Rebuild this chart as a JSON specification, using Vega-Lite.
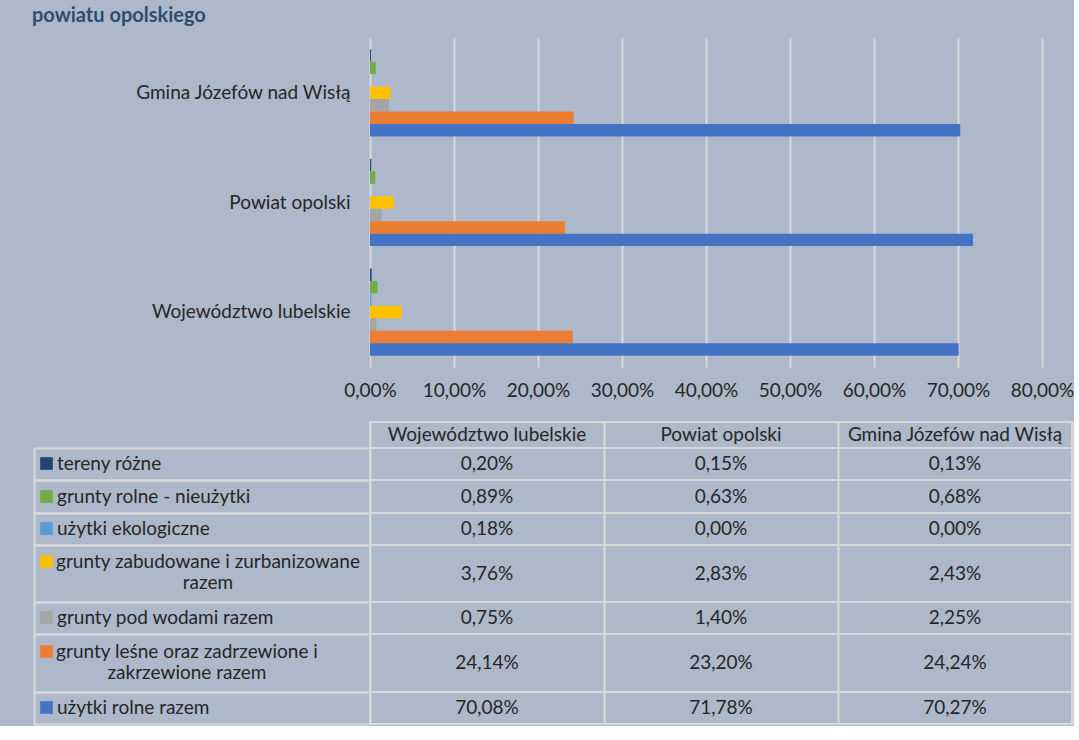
{
  "$schema": "https://vega.github.io/schema/vega-lite/v6.json",
  "background": "#adb9ca",
  "padding": {"left": 32, "top": 6, "right": 0, "bottom": 0},
  "title": {"text": "powiatu opolskiego", "anchor": "start", "fontSize": 20, "fontWeight": "bold", "color": "#2e4d6d", "offset": 12},
  "config": {
    "font": "Lato",
    "locale": {"number": {"decimal": ",", "thousands": " ", "grouping": [3], "currency": ["", " zł"]}},
    "axis": {"labelFont": "Lato", "labelColor": "#262626", "labelFontSize": 19},
    "legend": {"symbolType": "square", "symbolSize": 160, "symbolStrokeWidth": 0, "labelFont": "Lato", "labelFontSize": 19, "labelColor": "#262626", "labelOffset": 1, "labelLimit": 400, "padding": 0, "orient": "none"},
    "text": {"font": "Lato", "fontSize": 19, "color": "#262626"}
  },
  "datasets": {
    "d": [
      {"region": "Województwo lubelskie", "series": "tereny różne", "value": 0.0020},
      {"region": "Powiat opolski", "series": "tereny różne", "value": 0.0015},
      {"region": "Gmina Józefów nad Wisłą", "series": "tereny różne", "value": 0.0013},
      {"region": "Województwo lubelskie", "series": "grunty rolne - nieużytki", "value": 0.0089},
      {"region": "Powiat opolski", "series": "grunty rolne - nieużytki", "value": 0.0063},
      {"region": "Gmina Józefów nad Wisłą", "series": "grunty rolne - nieużytki", "value": 0.0068},
      {"region": "Województwo lubelskie", "series": "użytki ekologiczne", "value": 0.0018},
      {"region": "Powiat opolski", "series": "użytki ekologiczne", "value": 0.0},
      {"region": "Gmina Józefów nad Wisłą", "series": "użytki ekologiczne", "value": 0.0},
      {"region": "Województwo lubelskie", "series": "grunty zabudowane i zurbanizowane razem", "value": 0.0376},
      {"region": "Powiat opolski", "series": "grunty zabudowane i zurbanizowane razem", "value": 0.0283},
      {"region": "Gmina Józefów nad Wisłą", "series": "grunty zabudowane i zurbanizowane razem", "value": 0.0243},
      {"region": "Województwo lubelskie", "series": "grunty pod wodami razem", "value": 0.0075},
      {"region": "Powiat opolski", "series": "grunty pod wodami razem", "value": 0.0140},
      {"region": "Gmina Józefów nad Wisłą", "series": "grunty pod wodami razem", "value": 0.0225},
      {"region": "Województwo lubelskie", "series": "grunty leśne oraz zadrzewione i zakrzewione razem", "value": 0.2414},
      {"region": "Powiat opolski", "series": "grunty leśne oraz zadrzewione i zakrzewione razem", "value": 0.2320},
      {"region": "Gmina Józefów nad Wisłą", "series": "grunty leśne oraz zadrzewione i zakrzewione razem", "value": 0.2424},
      {"region": "Województwo lubelskie", "series": "użytki rolne razem", "value": 0.7008},
      {"region": "Powiat opolski", "series": "użytki rolne razem", "value": 0.7178},
      {"region": "Gmina Józefów nad Wisłą", "series": "użytki rolne razem", "value": 0.7027}
    ]
  },
  "spacing": 21,
  "resolve": {"scale": {"color": "independent"}, "legend": {"color": "independent"}},
  "vconcat": [
    {
      "width": 672,
      "height": 329,
      "data": {"name": "d"},
      "view": {"stroke": null},
      "mark": {"type": "bar"},
      "encoding": {
        "y": {"field": "region", "type": "nominal", "sort": ["Gmina Józefów nad Wisłą", "Powiat opolski", "Województwo lubelskie"], "scale": {"paddingInner": 0.205, "paddingOuter": 0.1025}, "axis": {"title": null, "domain": false, "ticks": false, "grid": false, "labelPadding": 20, "labelLimit": 400}},
        "yOffset": {"field": "series", "type": "nominal", "sort": ["tereny różne", "grunty rolne - nieużytki", "użytki ekologiczne", "grunty zabudowane i zurbanizowane razem", "grunty pod wodami razem", "grunty leśne oraz zadrzewione i zakrzewione razem", "użytki rolne razem"], "scale": {"paddingInner": 0, "paddingOuter": 0}},
        "x": {"field": "value", "type": "quantitative", "scale": {"domain": [0, 0.8], "nice": false}, "axis": {"title": null, "format": ".2%", "values": [0, 0.1, 0.2, 0.3, 0.4, 0.5, 0.6, 0.7, 0.8], "grid": true, "gridColor": "#d9d9d9", "gridWidth": 2, "domain": false, "ticks": false, "labelPadding": 14, "labelFlush": false}},
        "color": {"field": "series", "type": "nominal", "scale": {"domain": ["tereny różne", "grunty rolne - nieużytki", "użytki ekologiczne", "grunty zabudowane i zurbanizowane razem", "grunty pod wodami razem", "grunty leśne oraz zadrzewione i zakrzewione razem", "użytki rolne razem"], "range": ["#264478", "#70ad47", "#5b9bd5", "#ffc000", "#a5a5a5", "#ed7d31", "#4472c4"]}, "legend": null}
      }
    },
    {
      "bounds": "flush",
      "spacing": 0,
      "resolve": {"scale": {"color": "independent"}, "legend": {"color": "independent"}},
      "vconcat": [
        {
          "width": 702, "height": 26,
          "data": {"name": "d"},
          "transform": [{"filter": {"field": "series", "equal": "tereny różne"}}],
          "view": {"stroke": "#d9d9d9", "strokeWidth": 2},
          "mark": {"type": "text"},
          "encoding": {
            "x": {"field": "region", "type": "nominal", "sort": ["Województwo lubelskie", "Powiat opolski", "Gmina Józefów nad Wisłą"], "scale": {"paddingInner": 0, "paddingOuter": 0}, "axis": {"title": null, "labels": false, "ticks": false, "domain": false, "grid": true, "tickBand": "extent", "gridColor": "#d9d9d9", "gridWidth": 2}},
            "text": {"field": "region"}
          }
        },
        {
          "width": 702, "height": 32,
          "data": {"name": "d"},
          "transform": [{"filter": {"field": "series", "equal": "tereny różne"}}],
          "view": {"stroke": "#d9d9d9", "strokeWidth": 2},
          "encoding": {"y": {"field": "series", "type": "nominal", "scale": {"paddingInner": 0, "paddingOuter": 0}, "axis": {"title": null, "labels": false, "grid": false, "domain": true, "domainColor": "#d9d9d9", "domainWidth": 2, "offset": 336, "ticks": true, "tickBand": "extent", "tickSize": -336, "tickColor": "#d9d9d9", "tickWidth": 2}}},
          "layer": [
            {"mark": {"type": "text"}, "encoding": {"x": {"field": "region", "type": "nominal", "sort": ["Województwo lubelskie", "Powiat opolski", "Gmina Józefów nad Wisłą"], "scale": {"paddingInner": 0, "paddingOuter": 0}, "axis": {"title": null, "labels": false, "ticks": false, "domain": false, "grid": true, "tickBand": "extent", "gridColor": "#d9d9d9", "gridWidth": 2}}, "text": {"field": "value", "format": ".2%"}}},
            {"mark": {"type": "text", "text": ""}, "encoding": {"color": {"field": "series", "type": "nominal", "scale": {"range": ["#264478"]}, "legend": {"title": null, "symbolSize": 160, "legendX": -333, "legendY": 6}}}}
          ]
        },
        {
          "width": 702, "height": 33,
          "data": {"name": "d"},
          "transform": [{"filter": {"field": "series", "equal": "grunty rolne - nieużytki"}}],
          "view": {"stroke": "#d9d9d9", "strokeWidth": 2},
          "encoding": {"y": {"field": "series", "type": "nominal", "scale": {"paddingInner": 0, "paddingOuter": 0}, "axis": {"title": null, "labels": false, "grid": false, "domain": true, "domainColor": "#d9d9d9", "domainWidth": 2, "offset": 336, "ticks": true, "tickBand": "extent", "tickSize": -336, "tickColor": "#d9d9d9", "tickWidth": 2}}},
          "layer": [
            {"mark": {"type": "text"}, "encoding": {"x": {"field": "region", "type": "nominal", "sort": ["Województwo lubelskie", "Powiat opolski", "Gmina Józefów nad Wisłą"], "scale": {"paddingInner": 0, "paddingOuter": 0}, "axis": {"title": null, "labels": false, "ticks": false, "domain": false, "grid": true, "tickBand": "extent", "gridColor": "#d9d9d9", "gridWidth": 2}}, "text": {"field": "value", "format": ".2%"}}},
            {"mark": {"type": "text", "text": ""}, "encoding": {"color": {"field": "series", "type": "nominal", "scale": {"range": ["#70ad47"]}, "legend": {"title": null, "symbolSize": 160, "legendX": -333, "legendY": 7}}}}
          ]
        },
        {
          "width": 702, "height": 32,
          "data": {"name": "d"},
          "transform": [{"filter": {"field": "series", "equal": "użytki ekologiczne"}}],
          "view": {"stroke": "#d9d9d9", "strokeWidth": 2},
          "encoding": {"y": {"field": "series", "type": "nominal", "scale": {"paddingInner": 0, "paddingOuter": 0}, "axis": {"title": null, "labels": false, "grid": false, "domain": true, "domainColor": "#d9d9d9", "domainWidth": 2, "offset": 336, "ticks": true, "tickBand": "extent", "tickSize": -336, "tickColor": "#d9d9d9", "tickWidth": 2}}},
          "layer": [
            {"mark": {"type": "text"}, "encoding": {"x": {"field": "region", "type": "nominal", "sort": ["Województwo lubelskie", "Powiat opolski", "Gmina Józefów nad Wisłą"], "scale": {"paddingInner": 0, "paddingOuter": 0}, "axis": {"title": null, "labels": false, "ticks": false, "domain": false, "grid": true, "tickBand": "extent", "gridColor": "#d9d9d9", "gridWidth": 2}}, "text": {"field": "value", "format": ".2%"}}},
            {"mark": {"type": "text", "text": ""}, "encoding": {"color": {"field": "series", "type": "nominal", "scale": {"range": ["#5b9bd5"]}, "legend": {"title": null, "symbolSize": 160, "legendX": -333, "legendY": 6}}}}
          ]
        },
        {
          "width": 702, "height": 57,
          "data": {"name": "d"},
          "transform": [{"filter": {"field": "series", "equal": "grunty zabudowane i zurbanizowane razem"}}],
          "view": {"stroke": "#d9d9d9", "strokeWidth": 2},
          "encoding": {"y": {"field": "series", "type": "nominal", "scale": {"paddingInner": 0, "paddingOuter": 0}, "axis": {"title": null, "labels": false, "grid": false, "domain": true, "domainColor": "#d9d9d9", "domainWidth": 2, "offset": 336, "ticks": true, "tickBand": "extent", "tickSize": -336, "tickColor": "#d9d9d9", "tickWidth": 2}}},
          "layer": [
            {"mark": {"type": "text"}, "encoding": {"x": {"field": "region", "type": "nominal", "sort": ["Województwo lubelskie", "Powiat opolski", "Gmina Józefów nad Wisłą"], "scale": {"paddingInner": 0, "paddingOuter": 0}, "axis": {"title": null, "labels": false, "ticks": false, "domain": false, "grid": true, "tickBand": "extent", "gridColor": "#d9d9d9", "gridWidth": 2}}, "text": {"field": "value", "format": ".2%"}}},
            {"mark": {"type": "text", "text": ""}, "encoding": {"color": {"field": "series", "type": "nominal", "scale": {"range": ["#ffc000"]}, "legend": {"title": null, "symbolSize": 160, "legendX": -333, "legendY": 7, "labelAlign": "center", "labelOffset": 152, "labelExpr": "['grunty zabudowane i zurbanizowane', 'razem']"}}}}
          ]
        },
        {
          "width": 702, "height": 32,
          "data": {"name": "d"},
          "transform": [{"filter": {"field": "series", "equal": "grunty pod wodami razem"}}],
          "view": {"stroke": "#d9d9d9", "strokeWidth": 2},
          "encoding": {"y": {"field": "series", "type": "nominal", "scale": {"paddingInner": 0, "paddingOuter": 0}, "axis": {"title": null, "labels": false, "grid": false, "domain": true, "domainColor": "#d9d9d9", "domainWidth": 2, "offset": 336, "ticks": true, "tickBand": "extent", "tickSize": -336, "tickColor": "#d9d9d9", "tickWidth": 2}}},
          "layer": [
            {"mark": {"type": "text"}, "encoding": {"x": {"field": "region", "type": "nominal", "sort": ["Województwo lubelskie", "Powiat opolski", "Gmina Józefów nad Wisłą"], "scale": {"paddingInner": 0, "paddingOuter": 0}, "axis": {"title": null, "labels": false, "ticks": false, "domain": false, "grid": true, "tickBand": "extent", "gridColor": "#d9d9d9", "gridWidth": 2}}, "text": {"field": "value", "format": ".2%"}}},
            {"mark": {"type": "text", "text": ""}, "encoding": {"color": {"field": "series", "type": "nominal", "scale": {"range": ["#a5a5a5"]}, "legend": {"title": null, "symbolSize": 160, "legendX": -333, "legendY": 6}}}}
          ]
        },
        {
          "width": 702, "height": 58,
          "data": {"name": "d"},
          "transform": [{"filter": {"field": "series", "equal": "grunty leśne oraz zadrzewione i zakrzewione razem"}}],
          "view": {"stroke": "#d9d9d9", "strokeWidth": 2},
          "encoding": {"y": {"field": "series", "type": "nominal", "scale": {"paddingInner": 0, "paddingOuter": 0}, "axis": {"title": null, "labels": false, "grid": false, "domain": true, "domainColor": "#d9d9d9", "domainWidth": 2, "offset": 336, "ticks": true, "tickBand": "extent", "tickSize": -336, "tickColor": "#d9d9d9", "tickWidth": 2}}},
          "layer": [
            {"mark": {"type": "text"}, "encoding": {"x": {"field": "region", "type": "nominal", "sort": ["Województwo lubelskie", "Powiat opolski", "Gmina Józefów nad Wisłą"], "scale": {"paddingInner": 0, "paddingOuter": 0}, "axis": {"title": null, "labels": false, "ticks": false, "domain": false, "grid": true, "tickBand": "extent", "gridColor": "#d9d9d9", "gridWidth": 2}}, "text": {"field": "value", "format": ".2%"}}},
            {"mark": {"type": "text", "text": ""}, "encoding": {"color": {"field": "series", "type": "nominal", "scale": {"range": ["#ed7d31"]}, "legend": {"title": null, "symbolSize": 160, "legendX": -333, "legendY": 8, "labelAlign": "center", "labelOffset": 131, "labelExpr": "['grunty leśne oraz zadrzewione i', 'zakrzewione razem']"}}}}
          ]
        },
        {
          "width": 702, "height": 32,
          "data": {"name": "d"},
          "transform": [{"filter": {"field": "series", "equal": "użytki rolne razem"}}],
          "view": {"stroke": "#d9d9d9", "strokeWidth": 2},
          "encoding": {"y": {"field": "series", "type": "nominal", "scale": {"paddingInner": 0, "paddingOuter": 0}, "axis": {"title": null, "labels": false, "grid": false, "domain": true, "domainColor": "#d9d9d9", "domainWidth": 2, "offset": 336, "ticks": true, "tickBand": "extent", "tickSize": -336, "tickColor": "#d9d9d9", "tickWidth": 2}}},
          "layer": [
            {"mark": {"type": "text"}, "encoding": {"x": {"field": "region", "type": "nominal", "sort": ["Województwo lubelskie", "Powiat opolski", "Gmina Józefów nad Wisłą"], "scale": {"paddingInner": 0, "paddingOuter": 0}, "axis": {"title": null, "labels": false, "ticks": false, "domain": false, "grid": true, "tickBand": "extent", "gridColor": "#d9d9d9", "gridWidth": 2}}, "text": {"field": "value", "format": ".2%"}}},
            {"mark": {"type": "text", "text": ""}, "encoding": {"color": {"field": "series", "type": "nominal", "scale": {"range": ["#4472c4"]}, "legend": {"title": null, "symbolSize": 160, "legendX": -333, "legendY": 6}}}}
          ]
        }
      ]
    }
  ]
}
